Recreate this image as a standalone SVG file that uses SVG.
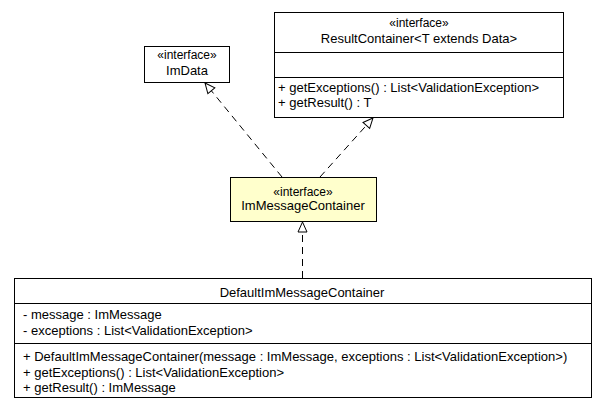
<svg xmlns="http://www.w3.org/2000/svg" width="605" height="411" viewBox="0 0 605 411">
<style>
text{font-family:"Liberation Sans",Arial,sans-serif;font-size:13px;fill:#000}
.c{text-anchor:middle}
.s{font-size:12px}
.box{fill:#fff;stroke:#000;stroke-width:1}
.hl{fill:#ffffcc;stroke:#000;stroke-width:1}
.sep{stroke:#000;stroke-width:1}
.edge{fill:none;stroke:#000;stroke-width:1;stroke-dasharray:7,5}
</style>
<defs>
<marker id="tri" viewBox="0 0 12 12" refX="11" refY="6" markerWidth="12" markerHeight="12" markerUnits="userSpaceOnUse" orient="auto">
<path d="M1,1.5 L11,6 L1,10.5 Z" fill="#fff" stroke="#000" stroke-width="1"/>
</marker>
</defs>
<g id="ImData">
<rect class="box" x="144.5" y="46.5" width="85" height="36"/>
<text class="c s" x="187" y="59">«interface»</text>
<text class="c" x="187" y="75">ImData</text>
</g>
<g id="ResultContainer">
<rect class="box" x="274.5" y="12.5" width="289" height="105"/>
<line class="sep" x1="274.5" y1="52.5" x2="563.5" y2="52.5"/>
<line class="sep" x1="274.5" y1="77.5" x2="563.5" y2="77.5"/>
<text class="c s" x="419" y="27">«interface»</text>
<text class="c" x="419" y="43">ResultContainer&lt;T extends Data&gt;</text>
<text x="278" y="92">+ getExceptions() : List&lt;ValidationException&gt;</text>
<text x="278" y="107">+ getResult() : T</text>
</g>
<g id="ImMessageContainer">
<rect class="hl" x="230.5" y="177.5" width="146" height="44"/>
<text class="c s" x="303" y="196">«interface»</text>
<text class="c" x="303" y="210">ImMessageContainer</text>
</g>
<g id="DefaultImMessageContainer">
<rect class="box" x="14.5" y="278.5" width="577" height="119"/>
<line class="sep" x1="14.5" y1="303.5" x2="591.5" y2="303.5"/>
<line class="sep" x1="14.5" y1="343.5" x2="591.5" y2="343.5"/>
<text class="c" x="302" y="297">DefaultImMessageContainer</text>
<text x="23" y="319">- message : ImMessage</text>
<text x="23" y="335">- exceptions : List&lt;ValidationException&gt;</text>
<text x="23" y="361">+ DefaultImMessageContainer(message : ImMessage, exceptions : List&lt;ValidationException&gt;)</text>
<text x="23" y="377">+ getExceptions() : List&lt;ValidationException&gt;</text>
<text x="23" y="392">+ getResult() : ImMessage</text>
</g>
<g id="connectors">
<path class="edge" d="M282,177 L205,83" marker-end="url(#tri)"/>
<path class="edge" d="M320,177 L373,118" marker-end="url(#tri)"/>
<path class="edge" d="M302.5,278 L302.5,222" marker-end="url(#tri)"/>
</g>
</svg>
